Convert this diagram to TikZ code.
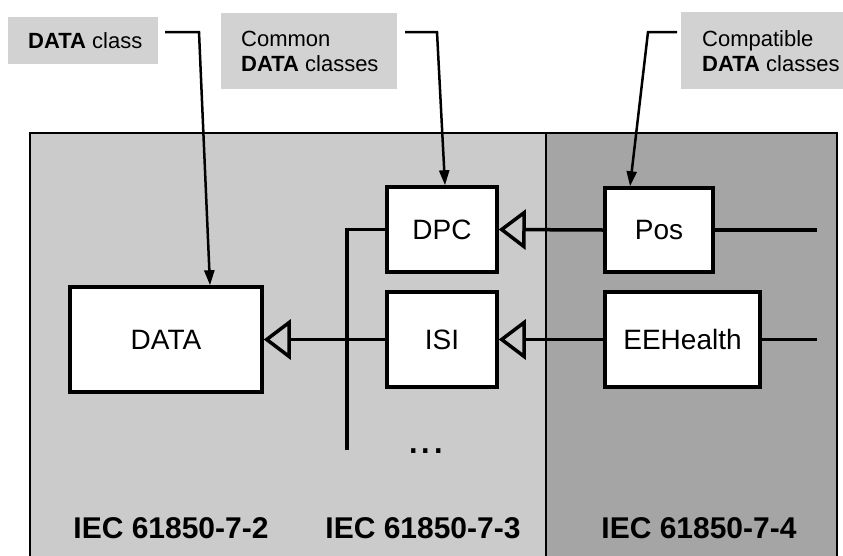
\documentclass[tikz,border=0pt]{standalone}
\usepackage{fontspec}
\setmainfont{Liberation Sans}
\usetikzlibrary{arrows.meta}
\definecolor{lightpanel}{HTML}{CBCBCB}
\definecolor{darkpanel}{HTML}{A5A5A5}
\definecolor{labelfill}{HTML}{D2D2D2}
\tikzset{
  classbox/.style={draw=black, line width=3.5pt, fill=white, inner sep=0pt,
    font=\fontsize{28}{32}\selectfont},
  labelbox/.style={fill=labelfill, inner sep=0pt, anchor=north west},
  labeltext/.style={anchor=west, align=left, inner sep=0pt,
    font=\fontsize{22}{25}\selectfont},
  stdtext/.style={anchor=base, inner sep=0pt, font=\bfseries\fontsize{30}{34}\selectfont},
  inherit/.style={line width=3.5pt, -{Triangle[open,length=27pt,width=40pt]}},
  leader/.style={line width=2.5pt, -{Triangle[length=15pt,width=10pt]}},
  plain/.style={line width=3.5pt}
}
\begin{document}
\begin{tikzpicture}[x=1pt,y=-1pt]
\useasboundingbox (0,0) rectangle (843,555);
\fill[white] (0,0) rectangle (843,555);
\begin{scope}
\clip (0,0) rectangle (843,555);
\draw[line width=2pt, fill=lightpanel] (30,133) rectangle (837,570);
\draw[line width=2pt, fill=darkpanel] (546,133) rectangle (837,570);
\end{scope}

% top labels
\node[labelbox, minimum width=150pt, minimum height=47pt] (lb1) at (8,17) {};
\node[labeltext] (lt1) at ([xshift=20pt]lb1.west) {\textbf{DATA} class};
\node[labelbox, minimum width=176pt, minimum height=76pt] (lb2) at (221,13) {};
\node[labeltext] (lt2) at ([xshift=20pt]lb2.west) {Common\\\textbf{DATA} classes};
\node[labelbox, minimum width=175pt, minimum height=77pt] (lb3) at (681,12) {};
\node[labeltext] (lt3) at ([xshift=21pt]lb3.west) {Compatible\\\textbf{DATA} classes};

% class boxes
\node[classbox, minimum width=192pt, minimum height=105pt] (data) at (166,339.5) {DATA};
\node[classbox, minimum width=110pt, minimum height=85pt] (dpc) at (442,229.5) {DPC};
\node[classbox, minimum width=110pt, minimum height=95pt] (isi) at (442,339.5) {ISI};
\node[classbox, minimum width=108pt, minimum height=84pt] (pos) at (659,230) {Pos};
\node[classbox, minimum width=155pt, minimum height=95pt] (eeh) at (682.5,339.5) {EEHealth};

% leaders
\coordinate (l1s) at (165,32);
\coordinate (l2s) at (405,32);
\coordinate (l3s) at (677,32);
\draw[leader] (l1s) -- (199,32) -- (data.north -| 210,0);
\draw[leader] (l2s) -- (437,32) -- (dpc.north -| 445,0);
\draw[leader] (l3s) -- (648,32) -- (pos.north -| 630,0);

% bus
\coordinate (busb) at (347,450);
\draw[plain] (busb) -- (busb |- dpc.west) -- (dpc.west);

% inheritance
\draw[inherit] (isi.west) -- (data.east);
\draw[inherit] (pos.west) -- (dpc.east);
\draw[inherit] (eeh.west) -- (isi.east);
\coordinate (e1) at (817,230);
\coordinate (e2) at (817,339.5);
\draw[plain] (pos.east) -- (e1);
\draw[plain] (eeh.east) -- (e2);

% dots
\node[anchor=base, inner sep=0pt, font=\fontsize{45}{50}\selectfont] (dots) at (426,453) {...};

% standard labels
\node[stdtext] (s2) at (171,538) {IEC 61850-7-2};
\node[stdtext] (s3) at (423,538) {IEC 61850-7-3};
\node[stdtext] (s4) at (699,538) {IEC 61850-7-4};
\end{tikzpicture}
\end{document}
